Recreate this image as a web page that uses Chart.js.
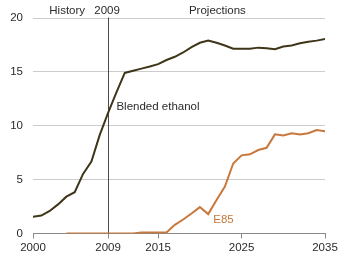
<!DOCTYPE html>
<html>
<head>
<meta charset="utf-8">
<script src="https://cdn.jsdelivr.net/npm/chart.js@4"></script>
<style>
html,body{margin:0;padding:0;background:#fff;}
#wrap{width:338px;height:256px;position:relative;}
</style>
</head>
<body>
<div id="wrap"><canvas id="c" width="338" height="256"></canvas></div>
<script>
const years = [2000,2001,2002,2003,2004,2005,2006,2007,2008,2009,2010,2011,2012,2013,2014,2015,2016,2017,2018,2019,2020,2021,2022,2023,2024,2025,2026,2027,2028,2029,2030,2031,2032,2033,2034,2035];
const blendedEthanol = [1.56,1.66,2.09,2.7,3.42,3.83,5.53,6.68,9.15,11.2,13.1,14.9,15.1,15.3,15.5,15.72,16.1,16.4,16.8,17.3,17.7,17.9,17.7,17.45,17.15,17.15,17.15,17.25,17.2,17.1,17.35,17.45,17.65,17.8,17.9,18.05];
const e85 = [null,null,null,null,0,0,0,0,0,0,0,0,0,0.1,0.1,0.1,0.1,0.8,1.3,1.85,2.45,1.8,3.1,4.35,6.5,7.25,7.35,7.75,7.95,9.2,9.1,9.3,9.2,9.3,9.6,9.5];
const xTickValues = [2000,2009,2015,2025,2035];
const yTickValues = [0,5,10,15,20];
const seriesLabels = ["Blended ethanol","E85"];
const annotations = ["History","2009","Projections"];

const FONT = "Liberation Sans, Arial, sans-serif";
const FSIZE = 11.5;
const TEXT = "#2b2b2b";

const toPoints = (vals) => years.map((y,i)=>({x:y,y:vals[i]}));

const overlay = {
  id:'overlay',
  beforeDatasetsDraw(chart){
    const {ctx, scales:{x,y}} = chart;
    const px = Math.round(x.getPixelForValue(2009)) + 0.5;
    ctx.save();
    ctx.strokeStyle = '#4a4a4a';
    ctx.lineWidth = 1;
    ctx.beginPath();
    ctx.moveTo(px, y.getPixelForValue(20) - 0.5);
    ctx.lineTo(px, y.getPixelForValue(0));
    ctx.stroke();
    ctx.restore();
  },
  afterDatasetsDraw(chart){
    const {ctx, scales:{x,y}} = chart;
    const px = x.getPixelForValue(2009);
    ctx.save();
    ctx.font = FSIZE + "px " + FONT;
    ctx.textBaseline = 'middle';
    ctx.fillStyle = TEXT;
    ctx.textAlign = 'right';
    ctx.fillText(annotations[0], px - 23, 11);
    ctx.textAlign = 'center';
    ctx.fillText(annotations[1], px - 1, 11);
    ctx.fillText(annotations[2], x.getPixelForValue(2022.1), 11);
    ctx.textAlign = 'left';
    ctx.fillText(seriesLabels[0], x.getPixelForValue(2010), y.getPixelForValue(11.8));
    ctx.fillStyle = '#c8783a';
    ctx.fillText(seriesLabels[1], x.getPixelForValue(2021.6), y.getPixelForValue(1.3));
    ctx.restore();
  }
};

new Chart(document.getElementById('c'), {
  type:'line',
  data:{
    datasets:[
      {label:seriesLabels[0], data:toPoints(blendedEthanol), borderColor:'#3f3519', borderWidth:2, pointRadius:0, tension:0, fill:false},
      {label:seriesLabels[1], data:toPoints(e85), borderColor:'#c8783a', borderWidth:2, pointRadius:0, tension:0, fill:false, spanGaps:false}
    ]
  },
  options:{
    responsive:false,
    animation:false,
    devicePixelRatio:1,
    layout:{padding:{left:0,right:13,top:18,bottom:0}},
    plugins:{legend:{display:false}, tooltip:{enabled:false}},
    scales:{
      x:{
        type:'linear', min:2000, max:2035,
        afterBuildTicks(s){ s.ticks = xTickValues.map(v=>({value:v})); },
        afterFit(s){ s.height = 22.5; s.paddingLeft = 0; s.paddingRight = 0; },
        grid:{display:true, drawOnChartArea:false, drawTicks:true, tickLength:5, color:'#8a8a8a', lineWidth:1},
        border:{display:true, color:'#8a8a8a', width:1},
        ticks:{padding:2, maxRotation:0, autoSkip:false, color:TEXT, font:{family:FONT, size:FSIZE}, callback:(v)=>String(v)}
      },
      y:{
        min:0, max:20,
        afterBuildTicks(s){ s.ticks = yTickValues.map(v=>({value:v})); },
        afterFit(s){ s.width = 33; },
        grid:{drawTicks:false, color:(c)=> c.tick && c.tick.value === 0 ? 'rgba(0,0,0,0)' : '#cccccc', lineWidth:1},
        border:{display:false},
        ticks:{padding:10, color:TEXT, font:{family:FONT, size:FSIZE}}
      }
    }
  },
  plugins:[overlay]
});
</script>
</body>
</html>
